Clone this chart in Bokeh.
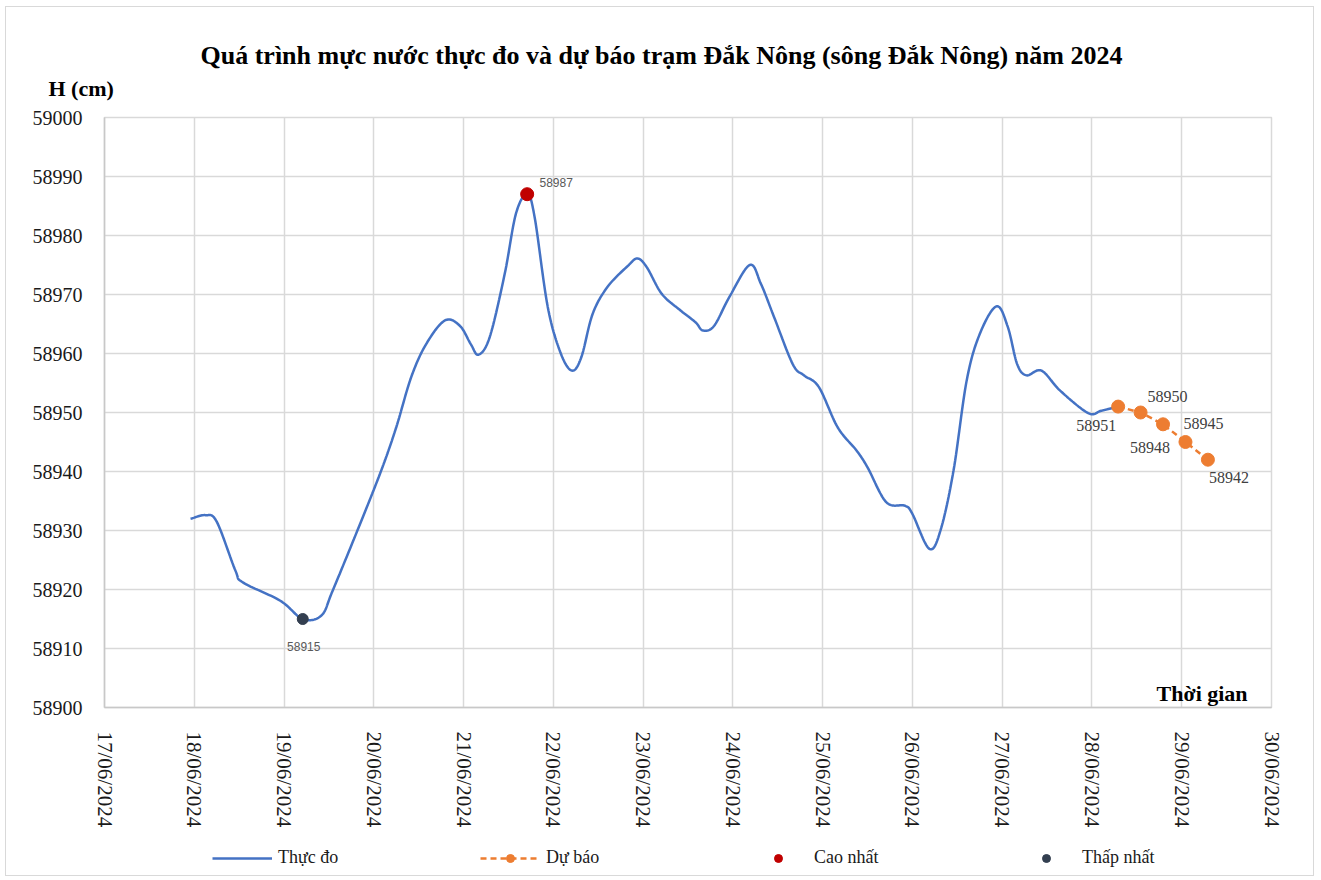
import math
import numpy as np
import pandas as pd
from bokeh.plotting import figure
from bokeh.layouts import column
from bokeh.models import (ColumnDataSource, FixedTicker, DatetimeTickFormatter,
                          Label, Legend, LegendItem, Range1d, Title)
from bokeh.embed import file_html
from bokeh.resources import INLINE
from bokeh.core.properties import value

# ---------------- data ----------------
obs_time = [
    "2024-06-17 23:00", "2024-06-18 03:00", "2024-06-18 06:00", "2024-06-18 11:00",
    "2024-06-18 13:00", "2024-06-18 23:00", "2024-06-19 05:00", "2024-06-19 10:00",
    "2024-06-19 13:00", "2024-06-19 20:00", "2024-06-20 02:00", "2024-06-20 06:00",
    "2024-06-20 10:00", "2024-06-20 14:00", "2024-06-20 19:00", "2024-06-20 23:00",
    "2024-06-21 02:00", "2024-06-21 04:00", "2024-06-21 07:00", "2024-06-21 11:00",
    "2024-06-21 14:00", "2024-06-21 17:00", "2024-06-21 19:00", "2024-06-21 22:30",
    "2024-06-22 02:00", "2024-06-22 05:00", "2024-06-22 07:30", "2024-06-22 10:30",
    "2024-06-22 14:30", "2024-06-22 20:00", "2024-06-22 22:30", "2024-06-23 01:00",
    "2024-06-23 05:00", "2024-06-23 10:00", "2024-06-23 14:00", "2024-06-23 16:00",
    "2024-06-23 19:00", "2024-06-23 23:00", "2024-06-24 04:30", "2024-06-24 07:30",
    "2024-06-24 11:00", "2024-06-24 16:00", "2024-06-24 19:00", "2024-06-24 23:00",
    "2024-06-25 04:00", "2024-06-25 09:00", "2024-06-25 12:00", "2024-06-25 17:00",
    "2024-06-25 22:00", "2024-06-26 00:00", "2024-06-26 04:30", "2024-06-26 07:30",
    "2024-06-26 11:00", "2024-06-26 14:30", "2024-06-26 18:00", "2024-06-26 22:30",
    "2024-06-27 01:30", "2024-06-27 04:00", "2024-06-27 06:30", "2024-06-27 10:30",
    "2024-06-27 15:30", "2024-06-27 23:00", "2024-06-28 02:30", "2024-06-28 07:00",
]
obs_level = [
    58932.0, 58932.6, 58931.5, 58923.2,
    58921.2, 58918.1, 58915.0, 58915.6,
    58919.8, 58930.6, 58940.2, 58947.5,
    58956.0, 58961.6, 58965.6, 58964.7,
    58961.5, 58959.8, 58962.8, 58973.5,
    58983.7, 58987.0, 58983.1, 58967.9,
    58960.0, 58957.1, 58959.4, 58966.7,
    58971.3, 58974.9, 58976.1, 58974.6,
    58970.1, 58967.3, 58965.3, 58963.9,
    58964.7, 58969.5, 58975.0, 58971.8,
    58966.2, 58958.2, 58956.3, 58954.3,
    58947.5, 58943.6, 58940.7, 58934.8,
    58934.2, 58932.8, 58926.9, 58930.0,
    58940.2, 58955.4, 58963.3, 58968.0,
    58964.5, 58958.2, 58956.3, 58957.1,
    58953.7, 58949.9, 58950.3, 58951.0,
]
fc_time = ["2024-06-28 07:00", "2024-06-28 13:00", "2024-06-28 19:00",
           "2024-06-29 01:00", "2024-06-29 07:00"]
fc_level = [58951, 58950, 58948, 58945, 58942]
max_time = ["2024-06-21 17:00"]
max_level = [58987]
min_time = ["2024-06-19 05:00"]
min_level = [58915]
x_tick_dates = ["2024-06-%02d" % d for d in range(17, 31)]
y_ticks = list(range(58900, 59001, 10))

title_text = "Quá trình mực nước thực đo và dự báo trạm Đắk Nông (sông Đắk Nông) năm 2024"
y_title = "H (cm)"
x_title = "Thời gian"
legend_names = ["Thực đo", "Dự báo", "Cao nhất", "Thấp nhất"]


def to_ms(strings):
    return pd.to_datetime(strings).values.astype("datetime64[ms]").astype("int64").astype(float)


def catmull_rom(xs, ys, n=16):
    xs = np.asarray(xs, float)
    ys = np.asarray(ys, float)
    px = np.concatenate([[2 * xs[0] - xs[1]], xs, [2 * xs[-1] - xs[-2]]])
    py = np.concatenate([[2 * ys[0] - ys[1]], ys, [2 * ys[-1] - ys[-2]]])
    outx, outy = [], []
    t = np.linspace(0, 1, n, endpoint=False)
    for i in range(1, len(px) - 2):
        for arr, out in ((px, outx), (py, outy)):
            p0, p1, p2, p3 = arr[i - 1], arr[i], arr[i + 1], arr[i + 2]
            out.extend(0.5 * ((2 * p1) + (-p0 + p2) * t +
                              (2 * p0 - 5 * p1 + 4 * p2 - p3) * t ** 2 +
                              (-p0 + 3 * p1 - 3 * p2 + p3) * t ** 3))
    outx.append(xs[-1])
    outy.append(ys[-1])
    return outx, outy


obs_x = to_ms(obs_time)
fc_x = to_ms(fc_time)
x_ticks = list(to_ms(x_tick_dates))
x0, x1 = x_ticks[0], x_ticks[-1]
DAY = 86400000.0

sx, sy = catmull_rom(obs_x, obs_level)

SERIF = "Liberation Serif"
GRID = "#d9d9d9"
BLUE, ORANGE, RED, DARK = "#4472C4", "#ED7D31", "#C00000", "#333F50"

p = figure(frame_width=1167, frame_height=590, output_backend="svg", toolbar_location=None,
           x_range=Range1d(x0, x1), y_range=Range1d(58900, 59000),
           min_border_left=98, min_border_right=42, min_border_top=110, min_border_bottom=130,
           background_fill_color="white", border_fill_color="white")
p.outline_line_color = GRID
p.outline_line_width = 1.5

# titles in the above panel
p.title.text = title_text
p.title.align = "left"
p.title.offset = 96
p.title.standoff = -25
p.title.text_font = SERIF
p.title.text_font_style = "bold"
p.title.text_font_size = "26px"
p.title.text_color = "#000000"
p.add_layout(Title(text=y_title, align="left", offset=-56, standoff=33, text_font=SERIF,
                   text_font_style="bold", text_font_size="22px", text_color="#000000"), "above")

p.xaxis.ticker = FixedTicker(ticks=x_ticks)
p.xaxis.formatter = DatetimeTickFormatter(days="%d/%m/%Y", months="%d/%m/%Y", hours="%d/%m/%Y")
p.xaxis.major_label_orientation = -math.pi / 2
p.yaxis.ticker = FixedTicker(ticks=y_ticks)
for ax in (p.xaxis, p.yaxis):
    ax.major_tick_line_color = None
    ax.minor_tick_line_color = None
    ax.axis_line_color = "#c8c8c8"
    ax.axis_line_width = 1.5
    ax.major_label_text_font = SERIF
    ax.major_label_text_font_size = "20px"
    ax.major_label_text_color = "#1a1a1a"
p.xaxis.major_label_text_font_size = "21px"
p.xaxis.major_label_standoff = 18
p.yaxis.major_label_standoff = 16

p.xgrid.ticker = FixedTicker(ticks=x_ticks)
p.ygrid.ticker = FixedTicker(ticks=y_ticks)
for g in (p.xgrid, p.ygrid):
    g.grid_line_color = GRID
    g.grid_line_width = 1.5

p.line(sx, sy, line_color=BLUE, line_width=2.5)
fc_src = ColumnDataSource(dict(x=fc_x, y=fc_level, label=[str(v) for v in fc_level],
                               dx=[-22, 27, -13, 18, 21], dy=[19, -16, 23, -19, 18]))
p.line("x", "y", source=fc_src, line_color=ORANGE, line_width=2.5, line_dash="6 4")
p.scatter("x", "y", source=fc_src, size=13, fill_color=ORANGE, line_color=ORANGE)
p.text("x", "y", text="label", source=fc_src, x_offset="dx", y_offset="dy",
       text_align="center", text_baseline="middle", text_font=value(SERIF),
       text_font_size="16px", text_color="#404040")

mx_src = ColumnDataSource(dict(x=to_ms(max_time), y=max_level, label=[str(v) for v in max_level]))
mn_src = ColumnDataSource(dict(x=to_ms(min_time), y=min_level, label=[str(v) for v in min_level]))
p.scatter("x", "y", source=mx_src, size=13, fill_color=RED, line_color=RED)
p.scatter("x", "y", source=mn_src, size=11, fill_color=DARK, line_color=DARK)
p.text("x", "y", text="label", source=mx_src, x_offset=29, y_offset=-12,
       text_align="center", text_baseline="middle", text_font=value("Liberation Sans"),
       text_font_size="12px", text_color="#595959")
p.text("x", "y", text="label", source=mn_src, x_offset=1, y_offset=27,
       text_align="center", text_baseline="middle", text_font=value("Liberation Sans"),
       text_font_size="12px", text_color="#595959")

p.add_layout(Label(x=x0 + (1247 - 103.5) / 89.8 * DAY, y=59000 - (693 - 117) / 5.9,
                   text=x_title, text_align="right",
                   text_baseline="middle", text_font=SERIF, text_font_style="bold",
                   text_font_size="22px", text_color="#000000"))

# ---------------- legend strip (second figure, same styles) ----------------
lg = figure(width=1307, height=38, output_backend="svg", toolbar_location=None,
            x_range=Range1d(0, 1), y_range=Range1d(0, 1),
            x_axis_location=None, y_axis_location=None,
            min_border=0, min_border_left=0, min_border_right=0,
            min_border_top=0, min_border_bottom=0,
            background_fill_color="white", border_fill_color="white")
lg.outline_line_color = None
lg.grid.visible = False


def proxy():
    # one point outside the strip's visible range: only the legend swatch shows
    return ColumnDataSource(dict(x=[5.0, 6.0], y=[5.0, 5.0]))


r_obs = lg.line("x", "y", source=proxy(), line_color=BLUE, line_width=2.5)
r_fcl = lg.line("x", "y", source=proxy(), line_color=ORANGE, line_width=2.5, line_dash="6 4")
r_fcp = lg.scatter("x", "y", source=proxy(), size=13, fill_color=ORANGE, line_color=ORANGE)
r_max = lg.scatter("x", "y", source=proxy(), size=13, fill_color=RED, line_color=RED)
r_min = lg.scatter("x", "y", source=proxy(), size=11, fill_color=DARK, line_color=DARK)
legend = Legend(items=[LegendItem(label=legend_names[0], renderers=[r_obs]),
                       LegendItem(label=legend_names[1], renderers=[r_fcl, r_fcp]),
                       LegendItem(label=legend_names[2], renderers=[r_max]),
                       LegendItem(label=legend_names[3], renderers=[r_min])],
                orientation="horizontal", location=(108, 7),
                glyph_width=60, glyph_height=20, label_standoff=6, label_width=150, spacing=52,
                padding=0, margin=0, border_line_color=None, background_fill_alpha=0,
                label_text_font=SERIF, label_text_font_size="18px", label_text_color="#1a1a1a")
lg.add_layout(legend, "center")

layout = column(p, lg, spacing=0,
                styles={"border": "1px solid #d9d9d9", "margin-left": "5px", "margin-top": "6px"})

open("out.html", "w").write(file_html(layout, INLINE))
